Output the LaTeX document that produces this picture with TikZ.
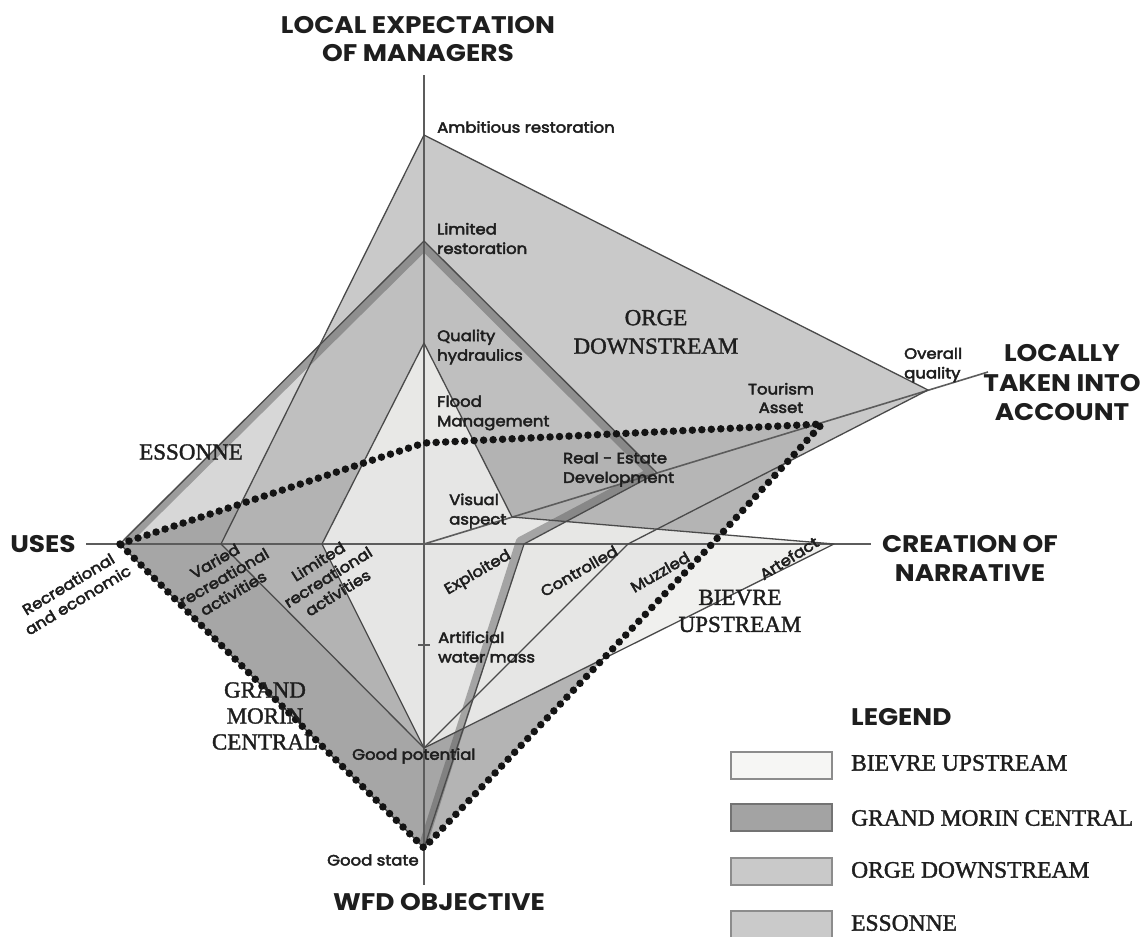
\documentclass[tikz,border=0pt]{standalone}
\usepackage{fontspec}
\setmainfont{Liberation Serif}
\newfontfamily\headfont[FakeStretch=1.1]{Poppins}
\newfontfamily\lblfont[FakeBold=3,FakeStretch=1.1]{Poppins}
\newfontfamily\regfont[FakeBold=1.5]{Liberation Serif}
\definecolor{axisc}{HTML}{5C5C5C}
\definecolor{outc}{HTML}{4A4A4A}
\definecolor{gmc}{HTML}{B4B4B4}
\definecolor{essc}{HTML}{8E8E8E}
\definecolor{orgc}{HTML}{B8B8B8}
\definecolor{biec}{HTML}{EEEEEC}
\definecolor{bandc}{HTML}{555555}
\definecolor{txtc}{HTML}{1E1E1E}
\definecolor{legbord}{HTML}{8C8C8C}
\definecolor{legbie}{HTML}{F6F6F4}
\definecolor{leggm}{HTML}{A3A3A3}
\definecolor{legorg}{HTML}{C9C9C9}
\definecolor{legess}{HTML}{CACACA}
\begin{document}
\begin{tikzpicture}[x=1pt,y=-1pt,
  axisline/.style={draw=axisc,line width=1.6pt},
  outl/.style={draw=outc,line width=1.3pt,line join=round},
  gmfill/.style={fill=gmc},
  essfill/.style={fill=essc,fill opacity=0.35},
  orgfill/.style={fill=orgc,fill opacity=0.75},
  biefill/.style={fill=biec,fill opacity=0.88},
  bandline/.style={draw=bandc,draw opacity=0.45,line width=8pt,line join=round},
  dotline/.style={draw=black!92,line width=7.5pt,line cap=round,dash pattern=on 0pt off 9.5pt},
  head/.style={font=\headfont\bfseries\fontsize{24}{28}\selectfont,text=txtc,inner sep=0pt,align=center},
  lbl/.style={font=\lblfont\fontsize{15}{19.5}\selectfont,text=txtc,inner sep=0pt,align=left},
  rlbl/.style={font=\lblfont\fontsize{15}{18.5}\selectfont,text=txtc,inner sep=0pt,align=center},
  region/.style={font=\regfont\fontsize{23}{26.5}\selectfont,text=txtc,inner sep=0pt,align=center},
  legtxt/.style={font=\regfont\fontsize{23.5}{28}\selectfont,text=txtc,inner sep=0pt,anchor=west},
  legbox/.style={draw=legbord,line width=2pt,minimum width=101pt,minimum height=27pt,inner sep=0pt}
]
\useasboundingbox (0,0) rectangle (1144,937);
\fill[white] (0,0) rectangle (1144,937);

% axis ends and centre
\coordinate (O) at (424,544);
\coordinate (topax) at (424,75);
\coordinate (botax) at (424,885);
\coordinate (leftax) at (86,544);
\coordinate (rightax) at (871,544);
\coordinate (diagend) at (988,372);
% values: local expectation
\coordinate (A) at (424,135);
\coordinate (LR) at (424,241);
\coordinate (QH) at (424,343);
\coordinate (FM) at (424,443);
% locally taken into account
\coordinate (OQ) at (928,390);
\coordinate (TA) at (822,424);
\coordinate (RE) at (657,473);
\coordinate (VA) at (512,517);
% creation of narrative
\coordinate (Expl) at (524,544);
\coordinate (Ctrl) at (628,544);
\coordinate (Muz) at (712,544);
\coordinate (Art) at (834,544);
% WFD objective
\coordinate (AWM) at (424,645);
\coordinate (GP) at (424,748);
\coordinate (GS) at (424,848);
% uses
\coordinate (Rec) at (120,544);
\coordinate (Var) at (221,544);
\coordinate (LimR) at (322,544);
% band inset points
\coordinate (b0) at (126,542);
\coordinate (b1) at (424,247);
\coordinate (b2) at (650,472);
\coordinate (b3) at (520,541);
\coordinate (b4) at (423,845);
\coordinate (tickL) at (418,645);
\coordinate (tickR) at (430,645);

% fills
\fill[gmfill] (Rec) -- (FM) -- (TA) -- (Muz) -- (GS) -- cycle;
\fill[essfill] (Rec) -- (LR) -- (RE) -- (Expl) -- (GS) -- cycle;
\fill[orgfill] (A) -- (OQ) -- (Ctrl) -- (GP) -- (Var) -- cycle;
\fill[biefill] (QH) -- (VA) -- (Art) -- (GP) -- (LimR) -- cycle;
% Essonne band
\draw[bandline] (b0) -- (b1) -- (b2) -- (b3) -- (b4);

% axes
\draw[axisline] (topax) -- (botax);
\draw[axisline] (leftax) -- (rightax);
\draw[axisline] (O) -- (diagend);
\draw[axisline] (tickL) -- (tickR);

% outlines
\draw[outl] (Rec) -- (LR) -- (RE) -- (Expl) -- (GS) -- cycle;
\draw[outl] (A) -- (OQ) -- (Ctrl) -- (GP) -- (Var) -- cycle;
\draw[outl] (QH) -- (VA) -- (Art) -- (GP) -- (LimR) -- cycle;
% Grand Morin dotted outline
\draw[dotline] (Rec) -- (FM) -- (TA) -- (Muz) -- (GS) -- cycle;

% axis titles
\node[head] (tLocal) at (418,39) {LOCAL EXPECTATION\\OF MANAGERS};
\node[head,font=\headfont\bfseries\fontsize{24}{29.5}\selectfont] (tLocally) at (1062,383) {LOCALLY\\TAKEN INTO\\ACCOUNT};
\node[head] (tUses) at (43,544) {USES};
\node[head,font=\headfont\bfseries\fontsize{24}{29}\selectfont] (tCreation) at (970,558) {CREATION OF\\NARRATIVE};
\node[head] (tWfd) at (439,902) {WFD OBJECTIVE};
\node[head,anchor=west] (tLegend) at (851,717) {LEGEND};

% value labels
\node[lbl,anchor=west] (lAmb) at (437,127) {Ambitious restoration};
\node[lbl,anchor=west] (lLim) at (437,238.5) {Limited\\restoration};
\node[lbl,anchor=west] (lQual) at (437,347) {Quality\\hydraulics};
\node[lbl,anchor=west] (lFlood) at (437,413) {Flood\\Management};
\node[lbl,anchor=west] (lVis) at (449,511) {Visual\\aspect};
\node[lbl,anchor=west] (lReal) at (563,469.5) {Real - Estate\\Development};
\node[rlbl] (lTour) at (781,398) {Tourism\\Asset};
\node[lbl,anchor=west] (lOver) at (904,365) {Overall\\quality};
\node[lbl,anchor=west] (lArt) at (438,647) {Artificial\\water mass};
\node[lbl,anchor=west] (lGP) at (352,756) {Good potential};
\node[lbl,anchor=west] (lGS) at (327,860) {Good state};
\node[rlbl,rotate=30] (lExpl) at (478,573) {Exploited};
\node[rlbl,rotate=30] (lCtrl) at (579,571) {Controlled};
\node[rlbl,rotate=30] (lMuz) at (660,572) {Muzzled};
\node[rlbl,rotate=32] (lArtef) at (789,558) {Artefact};
\node[rlbl,rotate=31] (lRec) at (73,592) {Recreational\\and economic};
\node[rlbl,rotate=30] (lVar) at (224,577) {Varied\\recreational\\activities};
\node[rlbl,rotate=32] (lLimR) at (328,577) {Limited\\recreational\\activities};

% region labels
\node[region] (rEss) at (191,452) {ESSONNE};
\node[region,font=\regfont\fontsize{23}{28.5}\selectfont] (rOrge) at (656,332) {ORGE\\DOWNSTREAM};
\node[region,font=\regfont\fontsize{23}{27}\selectfont] (rBie) at (740,611) {BIEVRE\\UPSTREAM};
\node[region,font=\regfont\fontsize{23}{26}\selectfont] (rGm) at (265,716) {GRAND\\MORIN\\CENTRAL};

% legend
\node[legbox,fill=legbie] (kBie) at (781.5,765.5) {};
\node[legbox,fill=leggm,draw=black!55] (kGm) at (781.5,817.5) {};
\node[legbox,fill=legorg] (kOrg) at (781.5,871) {};
\node[legbox,fill=legess] (kEss) at (781.5,924) {};
\node[legtxt] (xBie) at (851,763) {BIEVRE UPSTREAM};
\node[legtxt] (xGm) at (851,818) {GRAND MORIN CENTRAL};
\node[legtxt] (xOrg) at (851,870) {ORGE DOWNSTREAM};
\node[legtxt] (xEss) at (851,923) {ESSONNE};
\end{tikzpicture}
\end{document}
